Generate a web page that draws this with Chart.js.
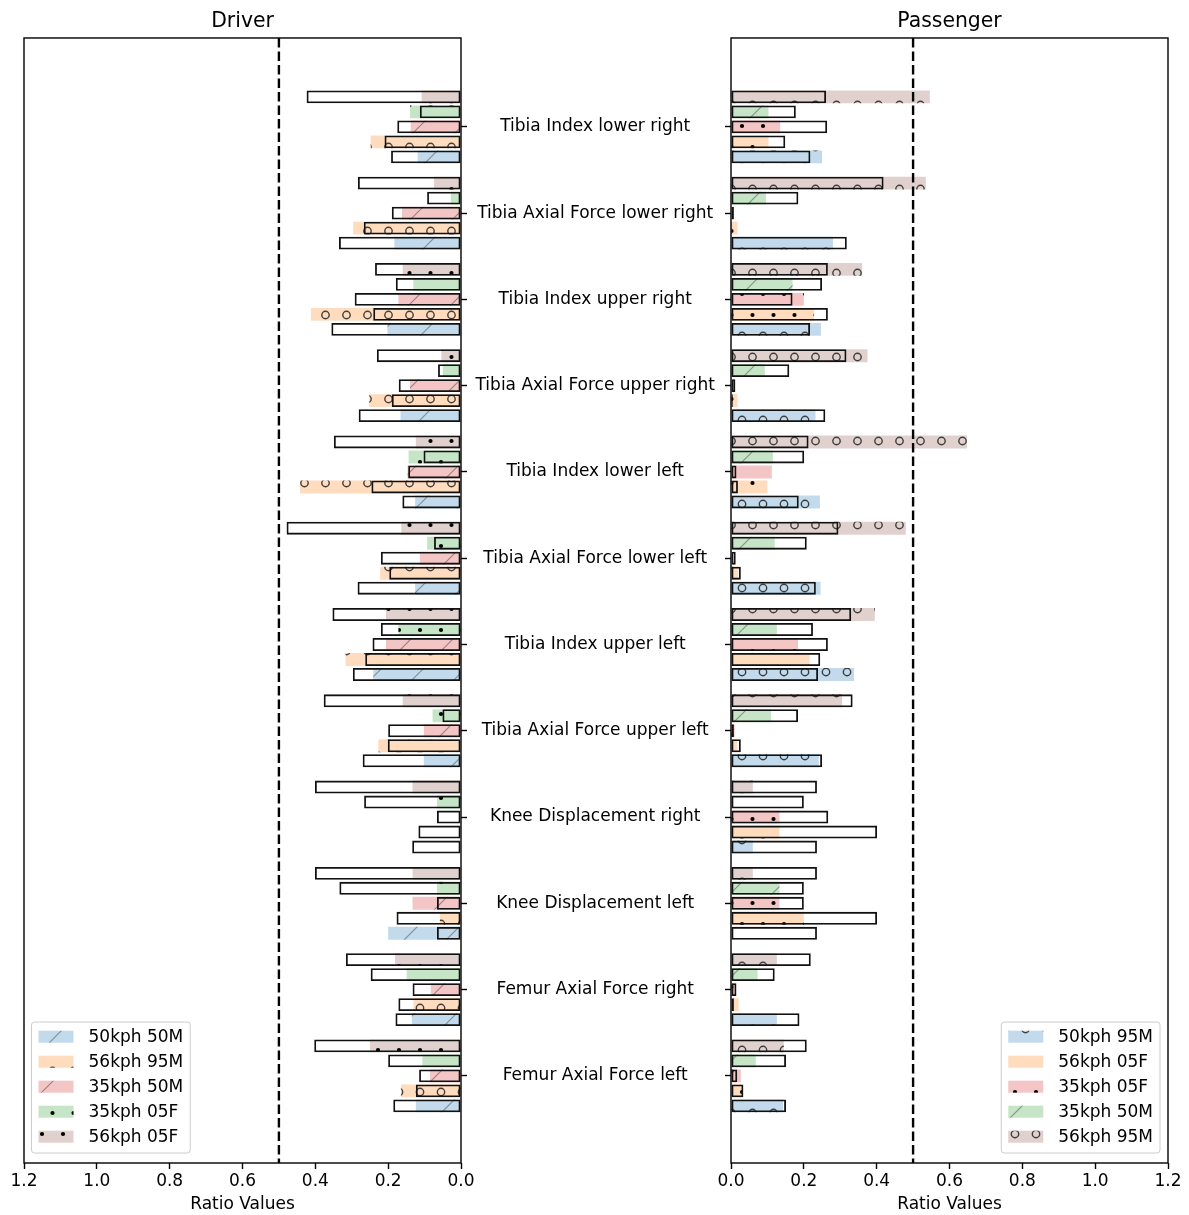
<!DOCTYPE html>
<html>
<head>
<meta charset="utf-8">
<script src="https://cdn.jsdelivr.net/npm/chart.js@4"></script>
<style>
  html, body { margin: 0; padding: 0; background: #fff; }
  #wrap { position: relative; width: 1189px; height: 1215px; overflow: hidden; background: #fff; }
  #driver { position: absolute; left: 0; top: 0; }
  #passenger { position: absolute; left: 700px; top: 0; }
</style>
</head>
<body>
<div id="wrap">
  <canvas id="driver" width="731" height="1215"></canvas>
  <canvas id="passenger" width="489" height="1215"></canvas>
</div>
<script>
// Injury criteria, listed top to bottom
const categories = [
  'Tibia Index lower right',
  'Tibia Axial Force lower right',
  'Tibia Index upper right',
  'Tibia Axial Force upper right',
  'Tibia Index lower left',
  'Tibia Axial Force lower left',
  'Tibia Index upper left',
  'Tibia Axial Force upper left',
  'Knee Displacement right',
  'Knee Displacement left',
  'Femur Axial Force right',
  'Femur Axial Force left'
];
const xTicks = [0, 0.2, 0.4, 0.6, 0.8, 1.0, 1.2];
const THRESHOLD = 0.5;

// Driver load cases (legend order)
const driverSeries = ['50kph 50M', '56kph 95M', '35kph 50M', '35kph 05F', '56kph 05F'];
// shaded bars
const driver50kph50M_fill = [0.119, 0.183, 0.202, 0.166, 0.126, 0.126, 0.241, 0.102, 0, 0.2, 0.135, 0.124];
const driver56kph95M_fill = [0.248, 0.296, 0.412, 0.252, 0.442, 0.222, 0.317, 0.227, 0, 0.058, 0.131, 0.165];
const driver35kph50M_fill = [0.138, 0.162, 0.172, 0.14, 0.147, 0.113, 0.206, 0.102, 0, 0.133, 0.083, 0.085];
const driver35kph05F_fill = [0.14, 0.028, 0.131, 0.05, 0.144, 0.093, 0.172, 0.078, 0.066, 0.066, 0.149, 0.106];
const driver56kph05F_fill = [0.108, 0.074, 0.16, 0.054, 0.124, 0.164, 0.206, 0.16, 0.133, 0.133, 0.181, 0.25];
// framed bars
const driver50kph50M_edge = [0.192, 0.335, 0.356, 0.281, 0.161, 0.284, 0.297, 0.27, 0.134, 0.066, 0.18, 0.186];
const driver56kph95M_edge = [0.21, 0.267, 0.241, 0.19, 0.246, 0.197, 0.263, 0.201, 0.117, 0.177, 0.172, 0.124];
const driver35kph50M_edge = [0.175, 0.19, 0.292, 0.171, 0.145, 0.22, 0.243, 0.2, 0.066, 0.066, 0.133, 0.115];
const driver35kph05F_edge = [0.113, 0.093, 0.179, 0.063, 0.103, 0.074, 0.22, 0.051, 0.266, 0.334, 0.248, 0.2];
const driver56kph05F_edge = [0.424, 0.283, 0.236, 0.231, 0.349, 0.479, 0.353, 0.377, 0.401, 0.401, 0.316, 0.403];

// Passenger load cases (legend order)
const passengerSeries = ['50kph 95M', '56kph 05F', '35kph 05F', '35kph 50M', '56kph 95M'];
const passenger50kph95M_fill = [0.25, 0.28, 0.247, 0.232, 0.244, 0.246, 0.338, 0.241, 0.06, 0, 0.126, 0.143];
const passenger56kph05F_fill = [0.103, 0.018, 0.228, 0.018, 0.1, 0.02, 0.216, 0.017, 0.133, 0.2, 0.021, 0.03];
const passenger35kph05F_fill = [0.135, 0, 0.2, 0, 0.112, 0, 0.184, 0.01, 0.133, 0.133, 0.012, 0.027];
const passenger35kph50M_fill = [0.103, 0.096, 0.169, 0.093, 0.115, 0.12, 0.126, 0.11, 0, 0.133, 0.073, 0.068];
const passenger56kph95M_fill = [0.546, 0.535, 0.36, 0.375, 0.648, 0.48, 0.395, 0.305, 0.06, 0.06, 0.126, 0.145];
const passenger50kph95M_edge = [0.218, 0.318, 0.217, 0.259, 0.186, 0.233, 0.239, 0.25, 0.236, 0.236, 0.188, 0.151];
const passenger56kph05F_edge = [0.149, 0.003, 0.266, 0.005, 0.019, 0.027, 0.245, 0.027, 0.401, 0.401, 0.008, 0.034];
const passenger35kph05F_edge = [0.264, 0.008, 0.169, 0.012, 0.015, 0.013, 0.266, 0.008, 0.267, 0.2, 0.015, 0.017];
const passenger35kph50M_edge = [0.178, 0.185, 0.25, 0.16, 0.201, 0.208, 0.225, 0.184, 0.2, 0.2, 0.12, 0.151];
const passenger56kph95M_edge = [0.261, 0.419, 0.266, 0.317, 0.213, 0.295, 0.33, 0.334, 0.236, 0.236, 0.219, 0.208];

// ---- styling ----
const TAB = {
  blue: '31,119,180', orange: '255,127,14', red: '214,39,40', green: '44,160,44', brown: '140,86,75'
};
const FILL_ALPHA = 0.27;
const driverLook = [
  { rgb: TAB.blue, hatch: '/' }, { rgb: TAB.orange, hatch: 'o' }, { rgb: TAB.red, hatch: '/' },
  { rgb: TAB.green, hatch: '.' }, { rgb: TAB.brown, hatch: '.' }
];
const passengerLook = [
  { rgb: TAB.blue, hatch: 'o' }, { rgb: TAB.orange, hatch: '.' }, { rgb: TAB.red, hatch: '.' },
  { rgb: TAB.green, hatch: '/' }, { rgb: TAB.brown, hatch: 'o' }
];

Chart.defaults.font.family = '"DejaVu Sans", sans-serif';
Chart.defaults.font.size = 17;
Chart.defaults.color = '#000';

// Translucent fill with a sparse hatch drawn on a repeating tile
function hatchPattern(rgb, hatch) {
  const T = 42, H = T / 2;
  const c = document.createElement('canvas');
  c.width = T; c.height = T;
  const g = c.getContext('2d');
  g.fillStyle = `rgba(${rgb},${FILL_ALPHA})`;
  g.fillRect(0, 0, T, T);
  if (hatch === '/') {
    g.strokeStyle = 'rgba(40,40,40,0.42)';
    g.lineWidth = 1.2;
    g.beginPath();
    for (const o of [-T, 0, T]) { g.moveTo(o, T); g.lineTo(o + T, 0); }
    g.stroke();
  } else {
    const pts = [[0, 0], [H, 0], [T, 0], [0, T], [H, T], [T, T], [H / 2, H], [H * 1.5, H]];
    for (const [px, py] of pts) {
      g.beginPath();
      if (hatch === 'o') {
        g.arc(px, py, 3.7, 0, Math.PI * 2);
        g.strokeStyle = 'rgba(35,35,35,0.85)';
        g.lineWidth = 1.4;
        g.stroke();
      } else {
        g.arc(px, py, 2.1, 0, Math.PI * 2);
        g.fillStyle = '#000';
        g.fill();
      }
    }
  }
  return g.createPattern(c, 'repeat');
}

const toPoints = values => values.map((v, i) => ({ x: v, y: i }));

// Frame around the plotting area
const framePlugin = {
  id: 'frame',
  afterDraw(chart) {
    const { ctx, chartArea: a } = chart;
    ctx.save();
    ctx.strokeStyle = '#000';
    ctx.lineWidth = 1.4;
    ctx.strokeRect(a.left, a.top, a.right - a.left, a.bottom - a.top);
    ctx.restore();
  }
};

// Dashed reference line at the threshold value
const thresholdPlugin = {
  id: 'threshold',
  afterDatasetsDraw(chart) {
    const { ctx, chartArea: a, scales } = chart;
    const x = scales.x.getPixelForValue(THRESHOLD);
    ctx.save();
    ctx.strokeStyle = '#000';
    ctx.lineWidth = 2.4;
    ctx.setLineDash([9.5, 4]);
    ctx.beginPath();
    ctx.moveTo(x, a.top);
    ctx.lineTo(x, a.bottom);
    ctx.stroke();
    ctx.restore();
  }
};

// Legend box drawn inside the plotting area, in a lower corner
const insetLegendPlugin = {
  id: 'insetLegend',
  afterDraw(chart, args, opts) {
    const { ctx, chartArea: a } = chart;
    const items = opts.items;
    ctx.save();
    ctx.font = '17px "DejaVu Sans", sans-serif';
    const textW = Math.max(...items.map(it => ctx.measureText(it.label).width));
    const padX = 7, patchW = 35, patchH = 12, gap = 15, rowH = 25;
    const boxW = padX + patchW + gap + textW + 7;
    const boxH = 131;
    const x0 = opts.corner === 'left' ? a.left + 7.5 : a.right - 8 - boxW;
    const y0 = a.bottom - 10 - boxH;
    const r = 3;
    ctx.beginPath();
    ctx.moveTo(x0 + r, y0);
    ctx.lineTo(x0 + boxW - r, y0);
    ctx.arcTo(x0 + boxW, y0, x0 + boxW, y0 + r, r);
    ctx.lineTo(x0 + boxW, y0 + boxH - r);
    ctx.arcTo(x0 + boxW, y0 + boxH, x0 + boxW - r, y0 + boxH, r);
    ctx.lineTo(x0 + r, y0 + boxH);
    ctx.arcTo(x0, y0 + boxH, x0, y0 + boxH - r, r);
    ctx.lineTo(x0, y0 + r);
    ctx.arcTo(x0, y0, x0 + r, y0, r);
    ctx.closePath();
    ctx.fillStyle = 'rgba(255,255,255,0.8)';
    ctx.fill();
    ctx.strokeStyle = '#cccccc';
    ctx.lineWidth = 1;
    ctx.stroke();
    items.forEach((it, i) => {
      const cy = y0 + 14.7 + i * rowH;
      ctx.fillStyle = it.pattern;
      ctx.fillRect(x0 + padX, cy - patchH / 2, patchW, patchH);
      ctx.fillStyle = '#000';
      ctx.textBaseline = 'middle';
      ctx.textAlign = 'left';
      ctx.fillText(it.label, x0 + padX + patchW + gap, cy + 1);
    });
    ctx.restore();
  }
};

function buildPanel(canvasId, cfg) {
  const patterns = cfg.look.map(l => hatchPattern(l.rgb, l.hatch));
  const datasets = [];
  // framed bars (drawn on top); the last series sits at the top of each group
  for (let k = cfg.series.length - 1; k >= 0; k--) {
    datasets.push({
      label: cfg.series[k],
      data: toPoints(cfg.edge[k]),
      stack: 'g' + k,
      order: 0,
      backgroundColor: 'rgba(0,0,0,0)',
      borderColor: '#111111',
      borderWidth: 1.8,
      borderSkipped: false
    });
  }
  // shaded, hatched bars
  for (let k = cfg.series.length - 1; k >= 0; k--) {
    datasets.push({
      label: cfg.series[k],
      data: toPoints(cfg.fill[k]),
      stack: 'g' + k,
      order: 1,
      backgroundColor: patterns[k],
      borderWidth: 0
    });
  }
  const tickGrid = {
    display: true, drawOnChartArea: false, drawTicks: true, offset: false,
    tickLength: 6, tickWidth: 1.4, tickColor: '#000'
  };
  return new Chart(document.getElementById(canvasId), {
    type: 'bar',
    data: { datasets },
    options: {
      indexAxis: 'y',
      responsive: false,
      devicePixelRatio: 1,
      animation: false,
      events: [],
      categoryPercentage: 0.869,
      barPercentage: 0.86,
      layout: { padding: cfg.padding },
      scales: {
        x: {
          type: 'linear', min: 0, max: 1.2, reverse: cfg.reverse, stacked: false, bounds: 'data', offset: false,
          afterBuildTicks: s => { s.ticks = xTicks.map(v => ({ value: v })); },
          ticks: { callback: v => Number(v).toFixed(1), padding: 2, maxRotation: 0, autoSkip: false, color: '#000' },
          grid: tickGrid,
          border: { display: false },
          title: { display: true, text: 'Ratio Values', color: '#000', padding: 0 },
          afterFit: s => { s.height = 52; }
        },
        y: {
          type: 'linear', position: cfg.yPosition, min: -1.03, max: 12.01, reverse: true, bounds: 'data', offset: false,
          afterBuildTicks: s => { s.ticks = categories.map((_, i) => ({ value: i })); },
          ticks: {
            autoSkip: false, crossAlign: 'center', padding: 8.5, color: '#000',
            callback: v => (cfg.showLabels ? categories[v] : '')
          },
          grid: tickGrid,
          border: { display: false },
          afterFit: s => { s.width = cfg.yWidth; }
        }
      },
      plugins: {
        legend: { display: false },
        tooltip: { enabled: false },
        title: {
          display: true, text: cfg.title, fullSize: false, color: '#000',
          font: { size: 20.4, weight: 'normal' }, padding: { top: 9, bottom: 4.5 }
        },
        insetLegend: {
          corner: cfg.legendCorner,
          items: cfg.series.map((s, k) => ({ label: s, pattern: patterns[k] }))
        }
      }
    },
    plugins: [thresholdPlugin, framePlugin, insetLegendPlugin]
  });
}

buildPanel('driver', {
  title: 'Driver',
  series: driverSeries,
  look: driverLook,
  fill: [driver50kph50M_fill, driver56kph95M_fill, driver35kph50M_fill, driver35kph05F_fill, driver56kph05F_fill],
  edge: [driver50kph50M_edge, driver56kph95M_edge, driver35kph50M_edge, driver35kph05F_edge, driver56kph05F_edge],
  reverse: true,
  yPosition: 'right',
  yWidth: 270,
  showLabels: true,
  legendCorner: 'left',
  padding: { left: 24, right: 0, top: 0, bottom: 0 }
});

buildPanel('passenger', {
  title: 'Passenger',
  series: passengerSeries,
  look: passengerLook,
  fill: [passenger50kph95M_fill, passenger56kph05F_fill, passenger35kph05F_fill, passenger35kph50M_fill, passenger56kph95M_fill],
  edge: [passenger50kph95M_edge, passenger56kph05F_edge, passenger35kph05F_edge, passenger35kph50M_edge, passenger56kph95M_edge],
  reverse: false,
  yPosition: 'left',
  yWidth: 31,
  showLabels: false,
  legendCorner: 'right',
  padding: { left: 0, right: 21, top: 0, bottom: 0 }
});
</script>
</body>
</html>
